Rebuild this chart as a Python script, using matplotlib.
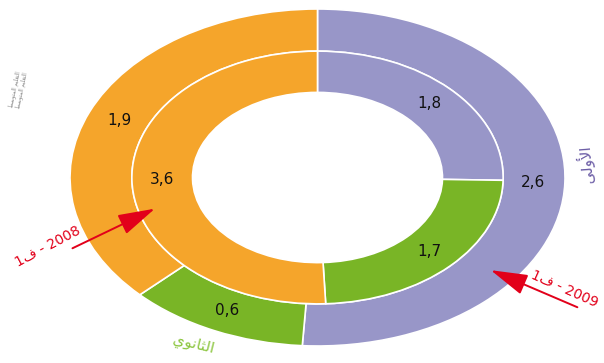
import matplotlib.pyplot as plt
import numpy as np

# values, clockwise from the top
categories = ["الأولى", "الثانوي", "المتوسط"]
outer_vals = [2.6, 0.6, 1.9]   # 2009 - Q1
inner_vals = [1.8, 1.7, 3.6]   # 2008 - Q1
colors = ["#9896C8", "#79B526", "#F5A52B"]

# arabic strings pre-shaped (presentation forms, visual order) since matplotlib has no shaping
lbl_first = "\uFEF0\uFEDF\uFEED\uFEF7\uFE8D"
lbl_second = "\uFEF1\uFEEE\uFEE7\uFE8E\uFE9C\uFEDF\uFE8D"
lbl_mid = "\uFEC2\uFEB3\uFEEE\uFE98\uFEE4\uFEDF\uFE8D \uFEE2\uFEF4\uFEE0\uFECC\uFE98\uFEDF\uFE8D"
lbl_2009 = "1\uFED1 - 2009"
lbl_2008 = "1\uFED1 - 2008"

def fmt(v):
    return ("%.1f" % v).replace(".", ",")

fig = plt.figure(figsize=(6.04, 3.63), dpi=100)
ax = fig.add_axes([70/604, 17/363, 495/604, 337/363])

w_out, _ = ax.pie(outer_vals, radius=1.0, colors=colors, startangle=90,
                  counterclock=False,
                  wedgeprops=dict(width=0.25, edgecolor="white", linewidth=1.2))
w_in, _ = ax.pie(inner_vals, radius=0.75, colors=colors, startangle=90,
                 counterclock=False,
                 wedgeprops=dict(width=0.245, edgecolor="white", linewidth=1.2))
ax.set_aspect("auto")
ax.set_xlim(-1, 1)
ax.set_ylim(-1, 1)
ax.axis("off")

def put_labels(wedges, vals, r):
    for w, v in zip(wedges, vals):
        a = np.deg2rad((w.theta1 + w.theta2) / 2)
        ax.text(r*np.cos(a), r*np.sin(a), fmt(v), ha="center", va="center",
                fontsize=11, color="#111111")

put_labels(w_out, outer_vals, 0.87)
put_labels(w_in, inner_vals, 0.63)

red = "#E2001A"
arrow = dict(arrowstyle="-|>,head_length=2.3,head_width=0.65",
             color=red, lw=1.4, shrinkA=0, shrinkB=0)
ax.annotate("", xy=(0.70, -0.55), xytext=(1.05, -0.77), annotation_clip=False,
            arrowprops=arrow)
ax.text(1.0, -0.66, lbl_2009, color=red, fontsize=10, rotation=-24,
        ha="center", va="center", clip_on=False)
ax.annotate("", xy=(-0.657, -0.185), xytext=(-0.99, -0.42), annotation_clip=False,
            arrowprops=arrow)
ax.text(-1.09, -0.41, lbl_2008, color=red, fontsize=10, rotation=28,
        ha="center", va="center", clip_on=False)

ax.text(1.08, 0.08, lbl_first, color="#6A5BA5", fontsize=11, rotation=95,
        ha="center", va="center", clip_on=False)
ax.text(-0.50, -0.99, lbl_second, color="#8CC63F", fontsize=11, rotation=-14,
        ha="center", va="center", clip_on=False)
ax.text(-1.21, 0.52, lbl_mid + "\n" + lbl_mid, color="#888888", fontsize=4,
        rotation=78, ha="center", va="center", clip_on=False)

fig.savefig("out.png", dpi=100)
